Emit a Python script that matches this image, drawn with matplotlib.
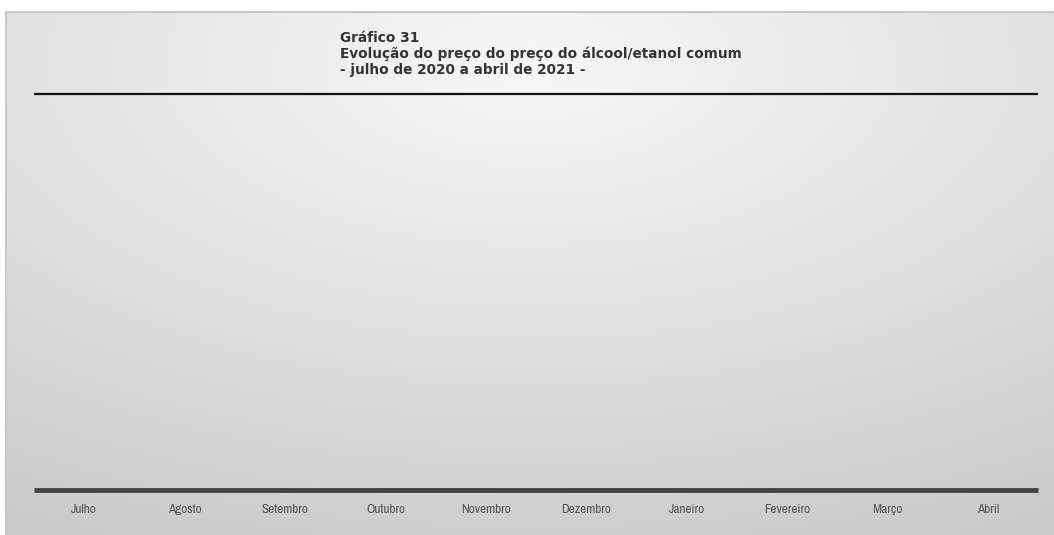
import numpy as np
import matplotlib
matplotlib.use("Agg")
import matplotlib.pyplot as plt
from matplotlib import font_manager as fm

# ---- data ----
title_lines = ["Gráfico 31",
               "Evolução do preço do preço do álcool/etanol comum",
               "- julho de 2020 a abril de 2021 -"]
months = ["Julho", "Agosto", "Setembro", "Outubro", "Novembro",
          "Dezembro", "Janeiro", "Fevereiro", "Março", "Abril"]
values = []  # no series plotted in the reference

W, H = 1054, 535
fig = plt.figure(figsize=(W / 100, H / 100), dpi=100)
fig.patch.set_facecolor("white")

# background frame with radial gradient
fx0, fy_top = 6, 12
bg = fig.add_axes([fx0 / W, 0, 1 - fx0 / W, (H - fy_top) / H])
bg.set_axis_off()
nx, ny = 400, 200
xs = np.linspace(0, 1, nx)
ys = np.linspace(0, 1, ny)
X, Y = np.meshgrid(xs, ys)
d = np.sqrt((X - 0.5) ** 2 + (Y - 0.1) ** 2) / 1.1
d = np.clip(d, 0, 1)
c = (248 - 50 * d) / 255.0
img = np.dstack([c, c, c])
bg.imshow(img, aspect="auto", extent=[0, 1, 1, 0], interpolation="bilinear")
bg.set_xlim(0, 1)
bg.set_ylim(1, 0)
# frame border
fig.add_artist(plt.Line2D([fx0 / W, 1], [1 - fy_top / H, 1 - fy_top / H],
                          color="#c8c8c8", lw=1.5))
fig.add_artist(plt.Line2D([fx0 / W, fx0 / W], [0, 1 - fy_top / H],
                          color="#c8c8c8", lw=1.5))

# plot area
px0, px1 = 34, 1038
py_top, py_bot = 94, 490
ax = fig.add_axes([px0 / W, 1 - py_bot / H, (px1 - px0) / W, (py_bot - py_top) / H])
ax.set_facecolor("none")
x = np.arange(len(months))
ax.set_xlim(-0.5, len(months) - 0.5)
ax.set_ylim(0, 1)
ax.set_xticks(x)
narrow = [f.name for f in fm.fontManager.ttflist if "Narrow" in f.name]
lab_family = [narrow[0]] if narrow else ["Liberation Sans", "DejaVu Sans"]
ax.set_xticklabels(months, fontsize=8.5 if not narrow else 9.5,
                   color="#555555", family=lab_family)
ax.tick_params(axis="x", length=0, pad=10)
ax.set_yticks([])
for s in ["left", "right"]:
    ax.spines[s].set_visible(False)
ax.spines["top"].set_color("#111111")
ax.spines["top"].set_linewidth(1.6)
ax.spines["bottom"].set_color("#444444")
ax.spines["bottom"].set_linewidth(3.5)
ax.spines["bottom"].set_capstyle("butt")
ax.spines["top"].set_capstyle("butt")

# title
for i, line in enumerate(title_lines):
    fig.text(340 / W, 1 - (42 + 16 * i) / H, line, ha="left", va="baseline",
             fontsize=9.8, fontweight="bold", color="#333333",
             family=["DejaVu Sans"])

fig.savefig("out.png", dpi=100, facecolor=fig.get_facecolor())
